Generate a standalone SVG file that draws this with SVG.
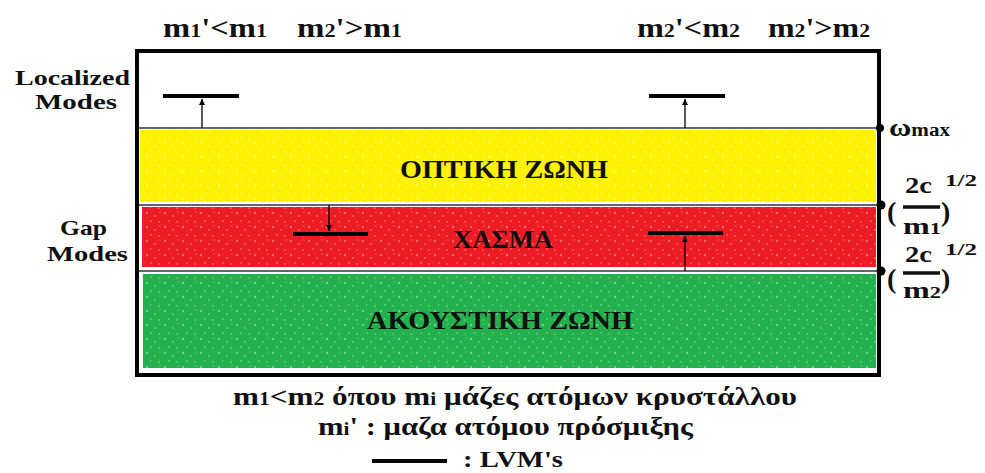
<svg xmlns="http://www.w3.org/2000/svg" width="985" height="473" viewBox="0 0 985 473">
  <style>
    .t { font-family: "Liberation Serif", "DejaVu Serif", serif; font-weight: bold; fill: #111; }
    .thin { stroke: #333; stroke-width: 1.5; fill: none; }
    .lvm { stroke: #000; stroke-width: 4; }
    .arr { stroke: #000; stroke-width: 1.3; marker-end: url(#ah); }
  </style>
  <defs>
    <marker id="ah" viewBox="0 0 10 10" refX="10" refY="5" markerWidth="6" markerHeight="6" markerUnits="userSpaceOnUse" orient="auto">
      <path d="M0,0 L10,5 L0,10 z" fill="#000"/>
    </marker>
    <pattern id="spray" width="18" height="14" patternUnits="userSpaceOnUse">
      <circle cx="3" cy="3" r="1.2" fill="#fff" opacity="0.35"/>
      <circle cx="11" cy="6" r="1" fill="#fff" opacity="0.3"/>
      <circle cx="7" cy="11" r="0.9" fill="#fff" opacity="0.3"/>
      <circle cx="15" cy="12" r="1.1" fill="#fff" opacity="0.25"/>
      <circle cx="16" cy="2" r="0.8" fill="#fff" opacity="0.3"/>
    </pattern>
  </defs>
  <rect width="985" height="473" fill="#fff"/>

  <g id="bands">
    <rect x="140" y="130" width="736" height="72" fill="#FFF200"/>
    <rect x="140" y="130" width="736" height="72" fill="url(#spray)"/>
    <rect x="142" y="207" width="734" height="60" fill="#ED1C24"/>
    <rect x="142" y="207" width="734" height="60" fill="url(#spray)"/>
    <rect x="143" y="274" width="733" height="94" fill="#22B14C"/>
    <rect x="143" y="274" width="733" height="94" fill="url(#spray)"/>
  </g>

  <g id="frame">
    <rect x="137" y="51" width="742" height="324" fill="none" stroke="#000" stroke-width="4"/>
    <line class="thin" x1="139" y1="128" x2="877" y2="128"/>
    <line class="thin" x1="139" y1="205" x2="877" y2="205"/>
    <line class="thin" x1="139" y1="271" x2="877" y2="271"/>
  </g>

  <g id="top-labels">
    <text class="t" x="163" y="37" font-size="28" textLength="104" lengthAdjust="spacingAndGlyphs">m<tspan font-size="19">1</tspan>'&lt;m<tspan font-size="19">1</tspan></text>
    <text class="t" x="297" y="37" font-size="28" textLength="105" lengthAdjust="spacingAndGlyphs">m<tspan font-size="19">2</tspan>'&gt;m<tspan font-size="19">1</tspan></text>
    <text class="t" x="637" y="37" font-size="28" textLength="103" lengthAdjust="spacingAndGlyphs">m<tspan font-size="19">2</tspan>'&lt;m<tspan font-size="19">2</tspan></text>
    <text class="t" x="768" y="37" font-size="28" textLength="102" lengthAdjust="spacingAndGlyphs">m<tspan font-size="19">2</tspan>'&gt;m<tspan font-size="19">2</tspan></text>
  </g>

  <g id="side-labels">
    <text class="t" x="15" y="85" font-size="22" textLength="115" lengthAdjust="spacingAndGlyphs">Localized</text>
    <text class="t" x="35" y="109" font-size="22" textLength="82" lengthAdjust="spacingAndGlyphs">Modes</text>
    <text class="t" x="60" y="235" font-size="22" textLength="47" lengthAdjust="spacingAndGlyphs">Gap</text>
    <text class="t" x="47" y="261" font-size="22" textLength="81" lengthAdjust="spacingAndGlyphs">Modes</text>
  </g>

  <g id="band-labels">
    <text class="t" x="400" y="178" font-size="25" textLength="208" lengthAdjust="spacingAndGlyphs">ΟΠΤΙΚΗ ΖΩΝΗ</text>
    <text class="t" x="453" y="248" font-size="25" textLength="100" lengthAdjust="spacingAndGlyphs">ΧΑΣΜΑ</text>
    <text class="t" x="367" y="329" font-size="25" textLength="266" lengthAdjust="spacingAndGlyphs">ΑΚΟΥΣΤΙΚΗ ΖΩΝΗ</text>
  </g>

  <g id="connectors">
    <line class="lvm" x1="163" y1="96" x2="239" y2="96"/>
    <line class="arr" x1="202" y1="128" x2="202" y2="99"/>
    <line class="lvm" x1="649" y1="96" x2="725" y2="96"/>
    <line class="arr" x1="685" y1="128" x2="685" y2="99"/>
    <line class="lvm" x1="293" y1="234" x2="368" y2="234"/>
    <line class="arr" x1="329" y1="205" x2="329" y2="231"/>
    <line class="lvm" x1="648" y1="233" x2="723" y2="233"/>
    <line class="arr" x1="685" y1="271" x2="685" y2="236"/>
  </g>

  <g id="right-labels">
    <circle cx="880" cy="128" r="4" fill="#000"/>
    <circle cx="881" cy="205" r="4.5" fill="#000"/>
    <circle cx="881" cy="271" r="4.5" fill="#000"/>
    <text class="t" x="889" y="136" font-size="26" textLength="61" lengthAdjust="spacingAndGlyphs">ω<tspan font-size="18">max</tspan></text>
    <g id="frac1">
      <text class="t" x="887" y="221" font-size="28">(</text>
      <text class="t" x="905" y="193" font-size="23" textLength="27" lengthAdjust="spacingAndGlyphs">2c</text>
      <line x1="903" y1="207" x2="940" y2="207" stroke="#111" stroke-width="3.5"/>
      <text class="t" x="903" y="234" font-size="23" textLength="38" lengthAdjust="spacingAndGlyphs">m<tspan font-size="16">1</tspan></text>
      <text class="t" x="941" y="221" font-size="28">)</text>
      <text class="t" x="945" y="186" font-size="17" textLength="32" lengthAdjust="spacingAndGlyphs">1/2</text>
    </g>
    <g id="frac2">
      <text class="t" x="887" y="288" font-size="28">(</text>
      <text class="t" x="905" y="262" font-size="23" textLength="27" lengthAdjust="spacingAndGlyphs">2c</text>
      <line x1="903" y1="273" x2="940" y2="273" stroke="#111" stroke-width="3.5"/>
      <text class="t" x="903" y="298" font-size="23" textLength="38" lengthAdjust="spacingAndGlyphs">m<tspan font-size="16">2</tspan></text>
      <text class="t" x="941" y="288" font-size="28">)</text>
      <text class="t" x="945" y="255" font-size="17" textLength="32" lengthAdjust="spacingAndGlyphs">1/2</text>
    </g>
  </g>

  <g id="legend">
    <text class="t" x="233" y="405" font-size="26" textLength="564" lengthAdjust="spacingAndGlyphs">m<tspan font-size="18">1</tspan>&lt;m<tspan font-size="18">2</tspan> όπου m<tspan font-size="18">i</tspan> μάζες ατόμων κρυστάλλου</text>
    <text class="t" x="318" y="435" font-size="26" textLength="375" lengthAdjust="spacingAndGlyphs">m<tspan font-size="18">i</tspan>' : μαζα ατόμου πρόσμιξης</text>
    <line class="lvm" x1="372" y1="461" x2="447" y2="461" stroke-width="3.5"/>
    <text class="t" x="463" y="467" font-size="24" textLength="100" lengthAdjust="spacingAndGlyphs">: LVM's</text>
  </g>
</svg>
